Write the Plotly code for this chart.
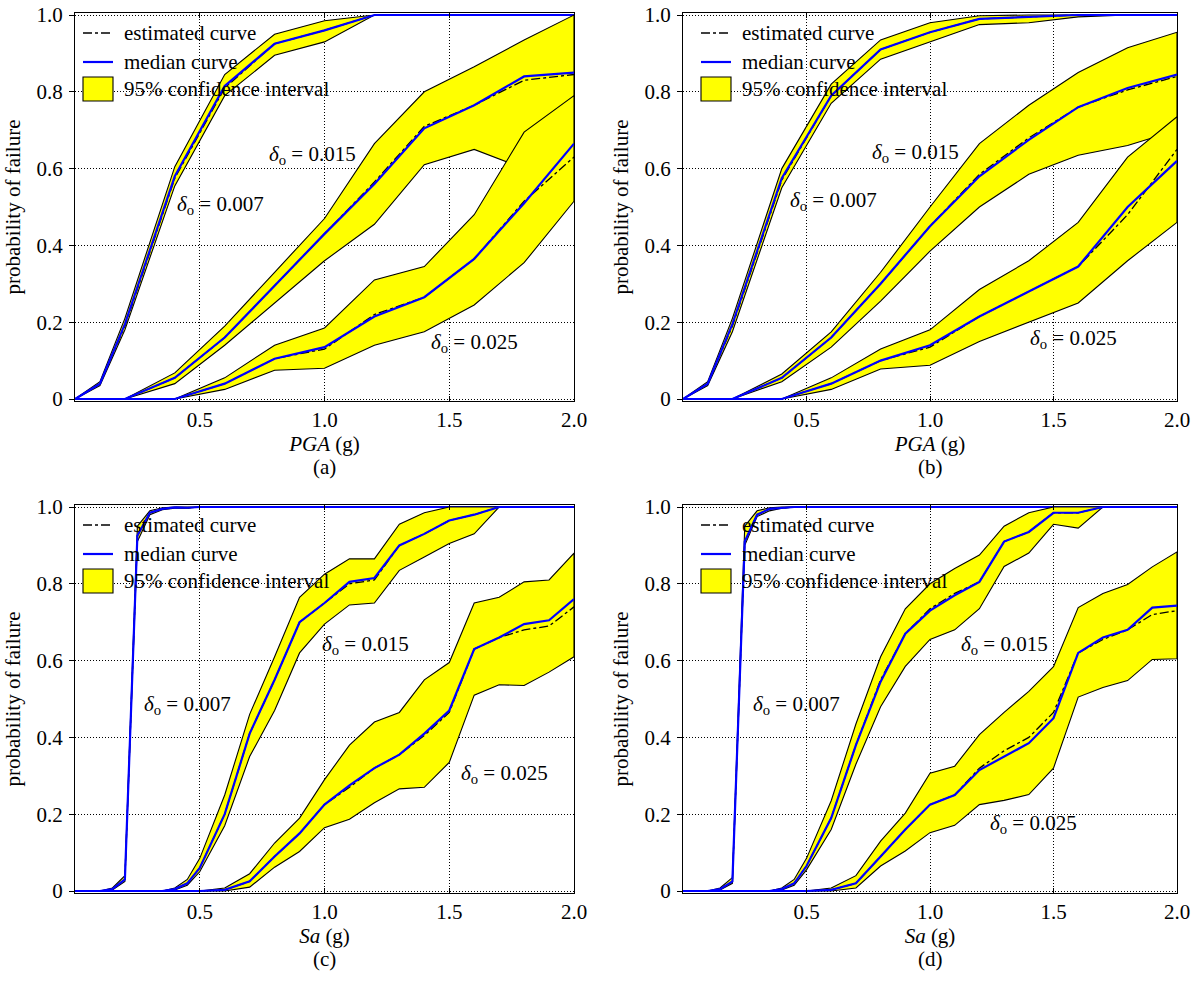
import plotly.graph_objects as go

# ---------------- data ----------------
XA = [0, 0.1, 0.2, 0.4, 0.6, 0.8, 1.0, 1.2, 1.4, 1.6, 1.8, 2.0]
XC = [0, 0.05, 0.1, 0.15, 0.2, 0.25, 0.3, 0.35, 0.4, 0.45, 0.5, 0.6, 0.7,
      0.8, 0.9, 1.0, 1.1, 1.2, 1.3, 1.4, 1.5, 1.6, 1.7, 1.8, 1.9, 2.0]

# panel (a) PGA
a007_up = [0, 0.045, 0.21, 0.605, 0.845, 0.95, 0.985, 1, 1, 1, 1, 1]
a007_lo = [0, 0.035, 0.18, 0.555, 0.79, 0.895, 0.93, 1, 1, 1, 1, 1]
a007_med = [0, 0.04, 0.195, 0.58, 0.815, 0.925, 0.96, 1, 1, 1, 1, 1]
a007_est = [0, 0.04, 0.19, 0.575, 0.81, 0.925, 0.96, 1, 1, 1, 1, 1]
a015_up = [0, 0, 0, 0.068, 0.19, 0.33, 0.47, 0.665, 0.8, 0.865, 0.935, 1.0]
a015_lo = [0, 0, 0, 0.04, 0.14, 0.25, 0.36, 0.455, 0.61, 0.65, 0.6, 0.62]
a015_med = [0, 0, 0, 0.055, 0.16, 0.295, 0.43, 0.56, 0.705, 0.765, 0.84, 0.85]
a015_est = [0, 0, 0, 0.055, 0.16, 0.295, 0.43, 0.565, 0.71, 0.765, 0.83, 0.845]
a025_up = [0, 0, 0, 0, 0.055, 0.14, 0.185, 0.31, 0.345, 0.48, 0.695, 0.79]
a025_lo = [0, 0, 0, 0, 0.025, 0.075, 0.08, 0.14, 0.175, 0.245, 0.355, 0.515]
a025_med = [0, 0, 0, 0, 0.04, 0.105, 0.135, 0.215, 0.265, 0.365, 0.51, 0.665]
a025_est = [0, 0, 0, 0, 0.04, 0.105, 0.13, 0.22, 0.265, 0.365, 0.515, 0.63]

# panel (b) PGA
b007_up = [0, 0.045, 0.21, 0.6, 0.82, 0.935, 0.98, 0.998, 1, 1, 1, 1]
b007_lo = [0, 0.035, 0.175, 0.55, 0.77, 0.885, 0.93, 0.975, 0.98, 0.995, 1, 1]
b007_med = [0, 0.04, 0.195, 0.575, 0.79, 0.91, 0.955, 0.99, 0.995, 1, 1, 1]
b007_est = [0, 0.04, 0.19, 0.57, 0.79, 0.91, 0.955, 0.99, 0.995, 1, 1, 1]
b015_up = [0, 0, 0, 0.065, 0.175, 0.33, 0.5, 0.665, 0.765, 0.85, 0.915, 0.955]
b015_lo = [0, 0, 0, 0.045, 0.135, 0.255, 0.385, 0.5, 0.585, 0.635, 0.66, 0.7]
b015_med = [0, 0, 0, 0.055, 0.16, 0.3, 0.45, 0.58, 0.675, 0.76, 0.81, 0.845]
b015_est = [0, 0, 0, 0.055, 0.16, 0.3, 0.45, 0.585, 0.68, 0.76, 0.805, 0.84]
b025_up = [0, 0, 0, 0, 0.055, 0.13, 0.18, 0.285, 0.36, 0.46, 0.63, 0.735]
b025_lo = [0, 0, 0, 0, 0.025, 0.078, 0.088, 0.15, 0.2, 0.25, 0.36, 0.46]
b025_med = [0, 0, 0, 0, 0.04, 0.1, 0.14, 0.215, 0.28, 0.345, 0.5, 0.62]
b025_est = [0, 0, 0, 0, 0.04, 0.1, 0.135, 0.215, 0.28, 0.345, 0.48, 0.65]

# panel (c) Sa
c007_up = [0, 0, 0, 0.008, 0.04, 0.95, 0.99, 0.998, 1, 1, 1, 1, 1, 1, 1, 1, 1, 1, 1, 1, 1, 1, 1, 1, 1, 1]
c007_lo = [0, 0, 0, 0.003, 0.025, 0.91, 0.98, 0.993, 0.997, 0.997, 1, 1, 1, 1, 1, 1, 1, 1, 1, 1, 1, 1, 1, 1, 1, 1]
c007_med = [0, 0, 0, 0.005, 0.03, 0.925, 0.985, 0.995, 0.999, 0.998, 1, 1, 1, 1, 1, 1, 1, 1, 1, 1, 1, 1, 1, 1, 1, 1]
c007_est = [0, 0, 0, 0.005, 0.03, 0.925, 0.985, 0.995, 0.999, 0.998, 1, 1, 1, 1, 1, 1, 1, 1, 1, 1, 1, 1, 1, 1, 1, 1]
c015_up = [0, 0, 0, 0, 0, 0, 0, 0, 0.008, 0.03, 0.085, 0.25, 0.46, 0.61, 0.765, 0.825, 0.865, 0.865, 0.955, 0.985, 1, 1, 1, 1, 1, 1]
c015_lo = [0, 0, 0, 0, 0, 0, 0, 0, 0.003, 0.015, 0.05, 0.17, 0.35, 0.47, 0.62, 0.695, 0.745, 0.75, 0.835, 0.87, 0.905, 0.93, 1, 1, 1, 1]
c015_med = [0, 0, 0, 0, 0, 0, 0, 0, 0.005, 0.02, 0.06, 0.2, 0.41, 0.55, 0.7, 0.75, 0.805, 0.815, 0.9, 0.93, 0.965, 0.98, 1, 1, 1, 1]
c015_est = [0, 0, 0, 0, 0, 0, 0, 0, 0.005, 0.02, 0.06, 0.2, 0.41, 0.55, 0.7, 0.75, 0.8, 0.81, 0.9, 0.93, 0.965, 0.98, 1, 1, 1, 1]
c025_up = [0, 0, 0, 0, 0, 0, 0, 0, 0, 0, 0, 0.008, 0.045, 0.125, 0.19, 0.29, 0.38, 0.44, 0.465, 0.55, 0.595, 0.75, 0.765, 0.805, 0.81, 0.88]
c025_lo = [0, 0, 0, 0, 0, 0, 0, 0, 0, 0, 0, 0.0, 0.01, 0.062, 0.103, 0.165, 0.187, 0.23, 0.266, 0.27, 0.335, 0.51, 0.537, 0.535, 0.57, 0.61]
c025_med = [0, 0, 0, 0, 0, 0, 0, 0, 0, 0, 0, 0.003, 0.025, 0.09, 0.15, 0.225, 0.275, 0.32, 0.355, 0.41, 0.47, 0.63, 0.66, 0.695, 0.705, 0.76]
c025_est = [0, 0, 0, 0, 0, 0, 0, 0, 0, 0, 0, 0.003, 0.025, 0.09, 0.15, 0.225, 0.27, 0.32, 0.355, 0.405, 0.465, 0.63, 0.66, 0.68, 0.69, 0.74]

# panel (d) Sa
d007_up = [0, 0, 0, 0.008, 0.035, 0.95, 0.99, 0.998, 1, 1, 1, 1, 1, 1, 1, 1, 1, 1, 1, 1, 1, 1, 1, 1, 1, 1]
d007_lo = [0, 0, 0, 0.003, 0.02, 0.9, 0.975, 0.99, 0.997, 1, 1, 1, 1, 1, 1, 1, 1, 1, 1, 1, 1, 1, 1, 1, 1, 1]
d007_med = [0, 0, 0, 0.005, 0.025, 0.91, 0.98, 0.995, 0.998, 1, 1, 1, 1, 1, 1, 1, 1, 1, 1, 1, 1, 1, 1, 1, 1, 1]
d007_est = [0, 0, 0, 0.005, 0.025, 0.91, 0.98, 0.995, 0.998, 1, 1, 1, 1, 1, 1, 1, 1, 1, 1, 1, 1, 1, 1, 1, 1, 1]
d015_up = [0, 0, 0, 0, 0, 0, 0, 0, 0.008, 0.03, 0.085, 0.235, 0.435, 0.61, 0.735, 0.8, 0.84, 0.875, 0.95, 0.985, 1, 1, 1, 1, 1, 1]
d015_lo = [0, 0, 0, 0, 0, 0, 0, 0, 0.003, 0.015, 0.055, 0.16, 0.33, 0.48, 0.585, 0.655, 0.68, 0.735, 0.845, 0.88, 0.955, 0.945, 1, 1, 1, 1]
d015_med = [0, 0, 0, 0, 0, 0, 0, 0, 0.005, 0.02, 0.065, 0.19, 0.38, 0.545, 0.67, 0.73, 0.77, 0.805, 0.91, 0.935, 0.985, 0.985, 1, 1, 1, 1]
d015_est = [0, 0, 0, 0, 0, 0, 0, 0, 0.005, 0.02, 0.065, 0.19, 0.38, 0.55, 0.67, 0.735, 0.775, 0.805, 0.91, 0.935, 0.985, 0.985, 1, 1, 1, 1]
d025_up = [0, 0, 0, 0, 0, 0, 0, 0, 0, 0, 0, 0.008, 0.04, 0.13, 0.203, 0.307, 0.325, 0.407, 0.465, 0.52, 0.584, 0.738, 0.775, 0.798, 0.844, 0.883]
d025_lo = [0, 0, 0, 0, 0, 0, 0, 0, 0, 0, 0, 0.0, 0.008, 0.065, 0.104, 0.152, 0.171, 0.225, 0.236, 0.251, 0.32, 0.505, 0.53, 0.548, 0.603, 0.605]
d025_med = [0, 0, 0, 0, 0, 0, 0, 0, 0, 0, 0, 0.003, 0.02, 0.09, 0.16, 0.225, 0.25, 0.315, 0.35, 0.385, 0.45, 0.62, 0.66, 0.68, 0.738, 0.743]
d025_est = [0, 0, 0, 0, 0, 0, 0, 0, 0, 0, 0, 0.003, 0.02, 0.09, 0.16, 0.225, 0.25, 0.32, 0.365, 0.4, 0.465, 0.62, 0.655, 0.68, 0.72, 0.73]

delta_labels = ["0.007", "0.015", "0.025"]
x_titles = ["<i>PGA</i> (g)", "<i>PGA</i> (g)", "<i>Sa</i> (g)", "<i>Sa</i> (g)"]
panel_labels = ["(a)", "(b)", "(c)", "(d)"]
y_title = "probability of failure"
legend_texts = ["estimated curve", "median curve", "95% confidence interval"]
x_tickvals = [0.5, 1.0, 1.5, 2.0]
x_ticktext = ["0.5", "1.0", "1.5", "2.0"]
y_tickvals = [0, 0.2, 0.4, 0.6, 0.8, 1.0]
y_ticktext = ["0", "0.2", "0.4", "0.6", "0.8", "1.0"]

# label positions (data coords) for each panel: [0.007, 0.015, 0.025]
label_pos = [
    [(0.585, 0.505), (0.95, 0.635), (1.60, 0.145)],
    [(0.61, 0.515), (0.94, 0.64), (1.58, 0.155)],
    [(0.45, 0.485), (1.165, 0.64), (1.72, 0.305)],
    [(0.46, 0.485), (1.30, 0.64), (1.42, 0.175)],
]

panels = [
    (XA, [(a007_up, a007_lo, a007_med, a007_est), (a015_up, a015_lo, a015_med, a015_est), (a025_up, a025_lo, a025_med, a025_est)]),
    (XA, [(b007_up, b007_lo, b007_med, b007_est), (b015_up, b015_lo, b015_med, b015_est), (b025_up, b025_lo, b025_med, b025_est)]),
    (XC, [(c007_up, c007_lo, c007_med, c007_est), (c015_up, c015_lo, c015_med, c015_est), (c025_up, c025_lo, c025_med, c025_est)]),
    (XC, [(d007_up, d007_lo, d007_med, d007_est), (d015_up, d015_lo, d015_med, d015_est), (d025_up, d025_lo, d025_med, d025_est)]),
]

# ---------------- layout geometry ----------------
W, H = 1200, 983
FONT = "Liberation Serif, Times New Roman, Times, serif"
FS = 21
YELLOW = "#FFFF00"
BLUE = "#0000FF"
GRID_DASH = "1px,2px"
# pixel boxes: (left, right, top(y=1.0), bottom(y=0))
boxes = [(75, 574, 15, 399), (683, 1177, 15, 399), (75, 574, 507, 891), (683, 1177, 507, 891)]
PAD = 0.005

fig = go.Figure()
layout = dict(width=W, height=H, margin=dict(l=0, r=0, t=0, b=0, autoexpand=False),
              paper_bgcolor="white", plot_bgcolor="white", showlegend=False,
              font=dict(family=FONT, size=FS, color="black"))
annotations = []
shapes = []

for i, (X, groups) in enumerate(panels):
    n = "" if i == 0 else str(i + 1)
    xa, ya = "x" + n, "y" + n
    L, R, T, B = boxes[i]
    ppu = (B - T)  # pixels per unit y
    top = T - PAD * ppu
    bot = B + PAD * ppu
    layout["xaxis" + n] = dict(
        domain=[L / W, R / W], range=[0, 2.0], anchor=ya, automargin=False,
        tickvals=x_tickvals, ticktext=x_ticktext,
        ticks="inside", ticklen=5, tickcolor="black", tickwidth=1,
        showline=True, linecolor="black", linewidth=1, mirror="ticks",
        showgrid=True, gridcolor="black", gridwidth=1, griddash=GRID_DASH,
        zeroline=False, tickfont=dict(family=FONT, size=FS),
        ticklabelstandoff=0,
        title=dict(text=x_titles[i], font=dict(family=FONT, size=FS), standoff=4),
    )
    layout["yaxis" + n] = dict(
        domain=[1 - bot / H, 1 - top / H], range=[-PAD, 1 + PAD], anchor=xa, automargin=False,
        tickvals=y_tickvals, ticktext=y_ticktext,
        ticks="outside", ticklen=5, tickcolor="black", tickwidth=1,
        showline=True, linecolor="black", linewidth=1, mirror=True,
        showgrid=True, gridcolor="black", gridwidth=1, griddash=GRID_DASH,
        zeroline=False, tickfont=dict(family=FONT, size=FS),
        ticklabelstandoff=2,
        title=dict(text=y_title, font=dict(family=FONT, size=FS), standoff=10),
    )
    for up, lo, med, est in groups:
        fig.add_trace(go.Scatter(x=list(X) + list(X)[::-1], y=list(up) + list(lo)[::-1],
                                 fill="toself", fillcolor=YELLOW, mode="lines",
                                 line=dict(color="black", width=1.1), xaxis=xa, yaxis=ya,
                                 hoverinfo="skip"))
        fig.add_trace(go.Scatter(x=X, y=est, mode="lines",
                                 line=dict(color="black", width=1.3, dash="dashdot"),
                                 xaxis=xa, yaxis=ya))
        fig.add_trace(go.Scatter(x=X, y=med, mode="lines",
                                 line=dict(color=BLUE, width=2.2), xaxis=xa, yaxis=ya))
    # delta labels
    for (lx, ly), dl in zip(label_pos[i], delta_labels):
        annotations.append(dict(x=lx, y=ly, xref=xa, yref=ya, showarrow=False,
                                text="<i>δ</i><sub>o</sub> = " + dl,
                                font=dict(family=FONT, size=FS, color="black"),
                                xanchor="center", yanchor="middle"))
    pw, ph = R - L, bot - top

    def dx(px):
        return (px - L) / pw

    def dy(py):
        return 1 - (py - top) / ph

    # panel label
    annotations.append(dict(x=0.5, y=dy(T + 452), xref=xa + " domain", yref=ya + " domain",
                            showarrow=False, text=panel_labels[i],
                            font=dict(family=FONT, size=FS), xanchor="center", yanchor="middle"))
    # manual legend
    off = 0 if i in (0, 2) else 10
    rows = [T + 18, T + 47, T + 74]
    sx0, sx1, tx = L + 8 + off, L + 38 + off, L + 47 + off
    shapes.append(dict(type="line", xref=xa + " domain", yref=ya + " domain",
                       x0=dx(sx0), x1=dx(sx1), y0=dy(rows[0]), y1=dy(rows[0]),
                       line=dict(color="black", width=1.3, dash="dashdot")))
    shapes.append(dict(type="line", xref=xa + " domain", yref=ya + " domain",
                       x0=dx(sx0), x1=dx(sx1), y0=dy(rows[1]), y1=dy(rows[1]),
                       line=dict(color=BLUE, width=2.2)))
    shapes.append(dict(type="rect", xref=xa + " domain", yref=ya + " domain",
                       x0=dx(sx0), x1=dx(sx1), y0=dy(rows[2] - 12), y1=dy(rows[2] + 12),
                       fillcolor=YELLOW, line=dict(color="black", width=1.1)))
    for r, t in zip(rows, legend_texts):
        annotations.append(dict(x=dx(tx), y=dy(r), xref=xa + " domain", yref=ya + " domain",
                                showarrow=False, text=t, xanchor="left", yanchor="middle",
                                font=dict(family=FONT, size=FS, color="black")))

layout["annotations"] = annotations
layout["shapes"] = shapes
fig.update_layout(**layout)
fig.write_html("out.html")
